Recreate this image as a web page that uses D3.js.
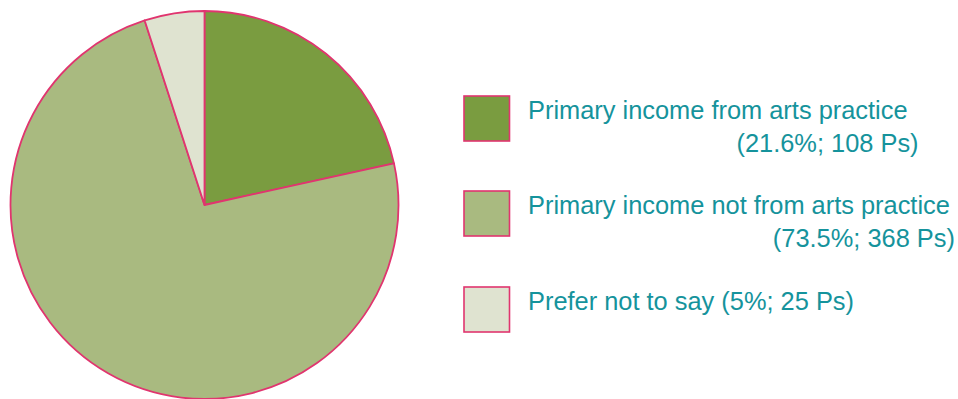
<!DOCTYPE html>
<html><head><meta charset="utf-8">
<script src="https://cdn.jsdelivr.net/npm/d3@7"></script>
<style>html,body{margin:0;padding:0;background:#fff;}svg{display:block;}</style>
</head><body>
<script>
const categories = ["Primary income from arts practice", "Primary income not from arts practice", "Prefer not to say"];
const percents = [21.6, 73.5, 5];
const counts = [108, 368, 25];
const colors = ["#7a9c40", "#a9ba80", "#dfe3d0"];

const W = 958, H = 399;
const svg = d3.select("body").append("svg").attr("width", W).attr("height", H);
const cx = 204.5, cy = 205, R = 194;
const stroke = "#e0356f";
const textColor = "#15939c";

const pie = d3.pie().sort(null).value(d => d)(counts);
const arc = d3.arc().innerRadius(0).outerRadius(R);
const g = svg.append("g").attr("transform", `translate(${cx},${cy})`);
g.selectAll("path").data(pie).join("path")
  .attr("d", arc)
  .attr("fill", (d, i) => colors[i])
  .attr("stroke", stroke)
  .attr("stroke-width", 1.8)
  .attr("stroke-linejoin", "round");

// legend
const boxY = d3.scaleOrdinal().domain(categories).range([96, 191, 287]);
const lg = svg.append("g");
const items = lg.selectAll("g").data(categories).join("g");
items.append("rect")
  .attr("x", 464).attr("y", d => boxY(d))
  .attr("width", 45.5).attr("height", 45)
  .attr("fill", (d, i) => colors[i])
  .attr("stroke", stroke).attr("stroke-width", 1.6);

const fs = 25.4;
items.each(function(d, i) {
  const sel = d3.select(this);
  const y0 = boxY(d);
  const label = i === 2 ? `${d} (${percents[i]}%; ${counts[i]} Ps)` : d;
  const t1 = sel.append("text")
    .attr("x", 528).attr("y", y0 + 22.5)
    .attr("font-family", "Liberation Sans, Arial, Helvetica, sans-serif")
    .attr("font-size", fs).attr("fill", textColor)
    .text(label);
  if (i < 2) {
    const w = t1.node().getComputedTextLength();
    sel.append("text")
      .attr("x", 528 + w + (i === 0 ? 11 : 5)).attr("y", y0 + 55.5)
      .attr("text-anchor", "end")
      .attr("font-family", "Liberation Sans, Arial, Helvetica, sans-serif")
      .attr("font-size", fs).attr("fill", textColor)
      .text(`(${percents[i]}%; ${counts[i]} Ps)`);
  }
});
</script>
</body></html>
